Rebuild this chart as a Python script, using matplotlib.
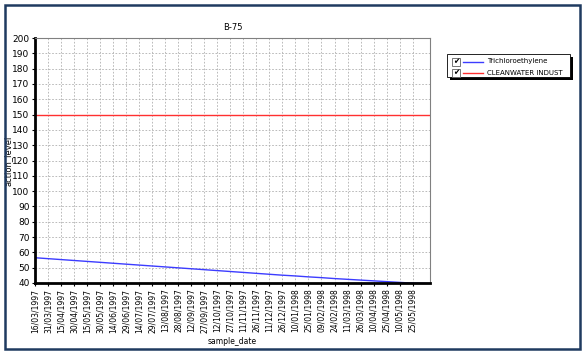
import numpy as np
import pandas as pd
import matplotlib
matplotlib.use("Agg")
import matplotlib.pyplot as plt
import matplotlib.dates as mdates
from matplotlib.patches import Rectangle
from matplotlib.lines import Line2D

# data
tick_dates = pd.date_range("1997-03-16", periods=30, freq="15D")
sample_dates = list(tick_dates) + [pd.Timestamp("1998-06-14")]
tce = [56.5, 55.9, 55.3, 54.7, 54.1, 53.5, 52.9, 52.3, 51.7, 51.1,
       50.5, 49.9, 49.3, 48.7, 48.1, 47.5, 46.9, 46.3, 45.7, 45.1,
       44.6, 44.0, 43.5, 42.9, 42.4, 41.9, 41.4, 40.9, 40.4, 39.9, 39.6]
limit_value = 150
series_names = ["Trichloroethylene", "CLEANWATER INDUST"]
series_colors = ["#3c3cff", "#ff3030"]

fig = plt.figure(figsize=(5.85, 3.53), dpi=100)
ax = fig.add_axes([35 / 585, 1 - 283 / 353, 395 / 585, 245 / 353])

ax.plot(sample_dates, tce, color=series_colors[0], lw=1)
ax.plot([sample_dates[0], sample_dates[-1]], [limit_value, limit_value],
        color=series_colors[1], lw=1)

ax.set_xlim(sample_dates[0], sample_dates[-1])
ax.set_ylim(40, 200)
ax.set_yticks(np.arange(40, 201, 10))
ax.set_xticks(tick_dates)
ax.xaxis.set_major_formatter(mdates.DateFormatter("%d/%m/%Y"))
ax.tick_params(axis="x", labelrotation=90, labelsize=5.5, length=2, pad=2)
ax.tick_params(axis="y", labelsize=6.5, length=2, pad=2)
ax.grid(True, color="#b0b0b0", ls=(0, (2, 2)), lw=0.6)

for s in ["left", "bottom"]:
    ax.spines[s].set_linewidth(2)
    ax.spines[s].set_color("black")
for s in ["top", "right"]:
    ax.spines[s].set_linewidth(0.8)
    ax.spines[s].set_color("#808080")

ax.set_title("B-75", fontsize=6, pad=6)
ax.set_xlabel("sample_date", fontsize=5.5, labelpad=2)
ax.xaxis.set_label_coords(0.5, -0.222)
ax.set_ylabel("action_level", fontsize=6, labelpad=1)
ax.yaxis.set_label_coords(-0.057, 0.5)

# legend with checkboxes
W, H = 585.0, 353.0
def fx(x): return x / W
def fy(y): return 1 - y / H

fig.add_artist(Rectangle((fx(450), fy(80)), 123 / W, 23 / H, transform=fig.transFigure,
                         facecolor="black", edgecolor="none"))
fig.add_artist(Rectangle((fx(447), fy(77)), 123 / W, 23 / H, transform=fig.transFigure,
                         facecolor="white", edgecolor="black", lw=0.6))
for i, (name, col) in enumerate(zip(series_names, series_colors)):
    yy = 61.5 + i * 11.5
    fig.add_artist(Rectangle((fx(452), fy(yy + 4)), 8 / W, 8 / H, transform=fig.transFigure,
                             facecolor="white", edgecolor="#606060", lw=0.6))
    fig.text(fx(456), fy(yy), "\u2714", fontsize=5.5, ha="center", va="center")
    fig.add_artist(Line2D([fx(463), fx(483)], [fy(yy), fy(yy)], color=col, lw=1,
                          transform=fig.transFigure))
    fig.text(fx(487), fy(yy), name, fontsize=5, ha="left", va="center")

# outer frame
fig.add_artist(Rectangle((fx(5), fy(349)), 575 / W, 344 / H, transform=fig.transFigure,
                         facecolor="none", edgecolor="#1f3a60", lw=1.8))

fig.savefig("out.png", dpi=100)
